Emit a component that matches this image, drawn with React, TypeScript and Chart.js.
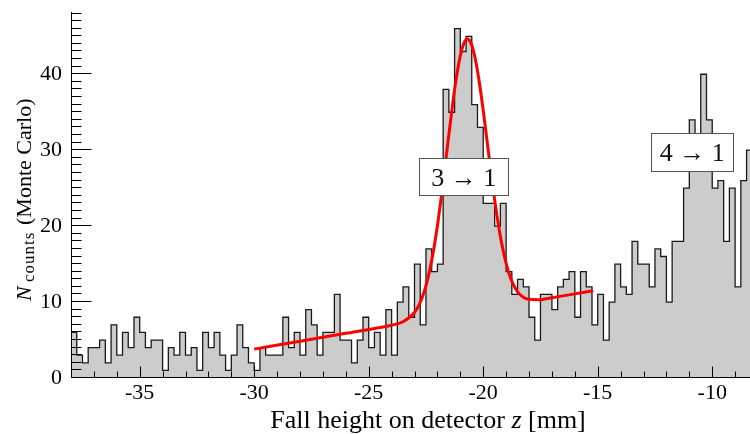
import React, { useEffect, useRef } from 'react';
import { Chart, registerables } from 'chart.js';

Chart.register(...registerables);

// Histogram definition (fall height on detector z in mm, 0.25 mm bins starting at -38 mm)
const BIN_LOW = -38;
const BIN_WIDTH = 0.25;

// Monte Carlo counts per bin
const counts = [
  6, 3, 2, 4, 4, 5, 2, 7, 3, 6, 4, 8, 6, 4, 5, 5,
  1, 4, 3, 6, 3, 4, 1, 6, 4, 6, 3, 1, 3, 7, 4, 2, 1,
  4, 3, 3, 3, 8, 4, 6, 3, 9, 7, 3, 6, 6, 11, 5, 5, 2,
  5, 8, 4, 6, 3, 9, 3, 10, 12, 8, 15, 7, 17, 14, 15,
  38, 35, 46, 43, 45, 36, 33, 23, 23, 20, 23,
  14, 11, 13, 12, 8, 5, 11, 11, 9, 12, 13, 14, 8, 14, 12, 7,
  11, 5, 10, 15, 12, 11, 18, 15, 15, 12, 17, 16, 10, 18, 18,
  25, 34, 30, 40, 34, 25, 26, 18, 25, 12, 26, 30,
];

// Fit curve (3 -> 1 peak on linear background)
const fitX = [
  -30, -28, -26, -24.5, -24, -23.5, -23, -22.8, -22.6, -22.4, -22.2, -22.0, -21.8, -21.6,
  -21.4, -21.2, -21.0, -20.85, -20.7, -20.55, -20.4, -20.2, -20.0, -19.8, -19.6, -19.4,
  -19.2, -19.0, -18.8, -18.6, -18.4, -18.0, -17.6, -17.0, -16.0, -15.2,
];
const fitY = [
  3.8, 4.84, 5.88, 6.66, 6.95, 7.41, 8.62, 9.63, 11.15, 13.32, 16.28, 20.06, 24.55, 29.51,
  34.51, 39.01, 42.46, 44.04, 44.64, 44.2, 42.77, 39.53, 35.24, 30.44, 25.69, 21.41,
  17.83, 15.09, 13.12, 11.81, 11.0, 10.36, 10.31, 10.56, 11.08, 11.5,
];

const xTickValues = [-35, -30, -25, -20, -15, -10];
const yTickValues = [0, 10, 20, 30, 40];
const xRange = [-38, -8.35];
const yRange = [0, 48.2];

const peakLabels = ['3 → 1', '4 → 1'];
const xTitle = ['Fall height on detector ', 'z', ' [mm]'];
const yTitle = ['N', 'counts', '(Monte Carlo)'];

const SERIF = '"Liberation Serif", "DejaVu Serif", serif';

// label anchors (data coordinates) and box sizes (px)
const labelBoxes = [
  { x: -20.85, y: 26.5, w: 89, h: 37 },
  { x: -10.87, y: 29.8, w: 82, h: 38 },
];

const rootStylePlugin = {
  id: 'rootStyle',
  afterDatasetsDraw(chart: any) {
    const { ctx, chartArea: a, scales } = chart;
    const xs = scales.x;
    const ys = scales.y;
    ctx.save();
    ctx.strokeStyle = '#000';
    ctx.lineWidth = 1;
    const L = Math.round(a.left) + 0.5;
    const B = Math.round(a.bottom) - 0.5;
    const T = Math.round(a.top);
    // axes
    ctx.beginPath();
    ctx.moveTo(L, T);
    ctx.lineTo(L, B);
    ctx.lineTo(a.right, B);
    ctx.stroke();
    // x ticks (inward)
    ctx.beginPath();
    for (let v = Math.ceil(xRange[0]); v <= xRange[1]; v++) {
      const px = Math.round(xs.getPixelForValue(v)) + 0.5;
      const len = v % 5 === 0 ? 11 : 6;
      ctx.moveTo(px, B);
      ctx.lineTo(px, B - len);
    }
    // y ticks (inward)
    for (let v = Math.ceil(yRange[0]); v <= yRange[1]; v++) {
      const py = Math.round(ys.getPixelForValue(v)) - 0.5;
      const len = v % 10 === 0 ? 20 : 10;
      ctx.moveTo(L, py);
      ctx.lineTo(L + len, py);
    }
    ctx.stroke();

    // peak label boxes
    labelBoxes.forEach((b, i) => {
      const cx = xs.getPixelForValue(b.x);
      const cy = ys.getPixelForValue(b.y);
      const x0 = Math.round(cx - b.w / 2) + 0.5;
      const y0 = Math.round(cy - b.h / 2) + 0.5;
      ctx.fillStyle = '#fff';
      ctx.fillRect(x0, y0, b.w, b.h);
      ctx.strokeStyle = '#555';
      ctx.lineWidth = 1;
      ctx.strokeRect(x0, y0, b.w, b.h);
      ctx.fillStyle = '#111';
      ctx.font = `26px ${SERIF}`;
      ctx.textAlign = 'center';
      ctx.textBaseline = 'alphabetic';
      ctx.fillText(peakLabels[i], cx, cy + 9.5);
    });

    // x title
    ctx.fillStyle = '#000';
    ctx.textAlign = 'left';
    ctx.textBaseline = 'alphabetic';
    const fN = `26px ${SERIF}`;
    const fI = `italic 26px ${SERIF}`;
    ctx.font = fN;
    const w1 = ctx.measureText(xTitle[0]).width;
    const w3 = ctx.measureText(xTitle[2]).width;
    ctx.font = fI;
    const w2 = ctx.measureText(xTitle[1]).width;
    const total = w1 + w2 + w3;
    let tx = 428 - total / 2;
    const ty = 428;
    ctx.font = fN;
    ctx.fillText(xTitle[0], tx, ty);
    tx += w1;
    ctx.font = fI;
    ctx.fillText(xTitle[1], tx, ty);
    tx += w2;
    ctx.font = fN;
    ctx.fillText(xTitle[2], tx, ty);

    // y title (rotated)
    ctx.save();
    ctx.translate(31, 301);
    ctx.rotate(-Math.PI / 2);
    ctx.font = `italic 22px ${SERIF}`;
    ctx.fillText(yTitle[0], 0, 0);
    ctx.font = `17px ${SERIF}`;
    (ctx as any).letterSpacing = '1px';
    ctx.fillText(yTitle[1], 19, 3);
    (ctx as any).letterSpacing = '0px';
    ctx.font = `22px ${SERIF}`;
    ctx.fillText(yTitle[2], 76, 0);
    ctx.restore();

    ctx.restore();
  },
};

const zeroPad = (s: any) => {
  s.paddingTop = 0;
  s.paddingBottom = 0;
  s.paddingLeft = 0;
  s.paddingRight = 0;
};

export default function App() {
  const canvasRef = useRef<HTMLCanvasElement | null>(null);

  useEffect(() => {
    document.body.style.margin = '0';
    const canvas = canvasRef.current;
    if (!canvas) return;

    const histPoints = counts.map((c, i) => ({ x: BIN_LOW + i * BIN_WIDTH, y: c }));
    histPoints.push({ x: BIN_LOW + counts.length * BIN_WIDTH, y: counts[counts.length - 1] });
    const fitPoints = fitX.map((x, i) => ({ x, y: fitY[i] }));

    const chart = new Chart(canvas, {
      type: 'line',
      data: {
        datasets: [
          {
            label: 'Monte Carlo',
            data: histPoints,
            stepped: 'before',
            fill: 'origin',
            backgroundColor: '#cccccc',
            borderColor: '#1a1a1a',
            borderWidth: 1.3,
            pointRadius: 0,
            order: 2,
          },
          {
            label: 'Fit',
            data: fitPoints,
            borderColor: '#ff0000',
            borderWidth: 3,
            pointRadius: 0,
            fill: false,
            cubicInterpolationMode: 'monotone',
            order: 1,
          },
        ],
      } as any,
      options: {
        responsive: false,
        animation: false,
        devicePixelRatio: 1,
        layout: { padding: { top: 12, left: 0, right: 0, bottom: 0 } },
        plugins: { legend: { display: false }, tooltip: { enabled: false } },
        scales: {
          x: {
            type: 'linear',
            min: xRange[0],
            max: xRange[1],
            afterBuildTicks: (s: any) => {
              s.ticks = xTickValues.map((v) => ({ value: v }));
            },
            afterFit: (s: any) => {
              s.height = 56;
              zeroPad(s);
            },
            grid: { display: false, drawTicks: false },
            border: { display: false },
            ticks: {
              callback: (v: any) => String(v),
              font: { family: SERIF, size: 22 },
              color: '#000',
              padding: 2,
              maxRotation: 0,
              autoSkip: false,
            },
          },
          y: {
            type: 'linear',
            min: yRange[0],
            max: yRange[1],
            afterBuildTicks: (s: any) => {
              s.ticks = yTickValues.map((v) => ({ value: v }));
            },
            afterFit: (s: any) => {
              s.width = 71;
              zeroPad(s);
            },
            grid: { display: false, drawTicks: false },
            border: { display: false },
            ticks: {
              callback: (v: any) => String(v),
              font: { family: SERIF, size: 22 },
              color: '#000',
              padding: 9,
              autoSkip: false,
            },
          },
        },
      } as any,
      plugins: [rootStylePlugin],
    });

    return () => chart.destroy();
  }, []);

  return <canvas ref={canvasRef} width={750} height={434} style={{ display: 'block' }} />;
}
